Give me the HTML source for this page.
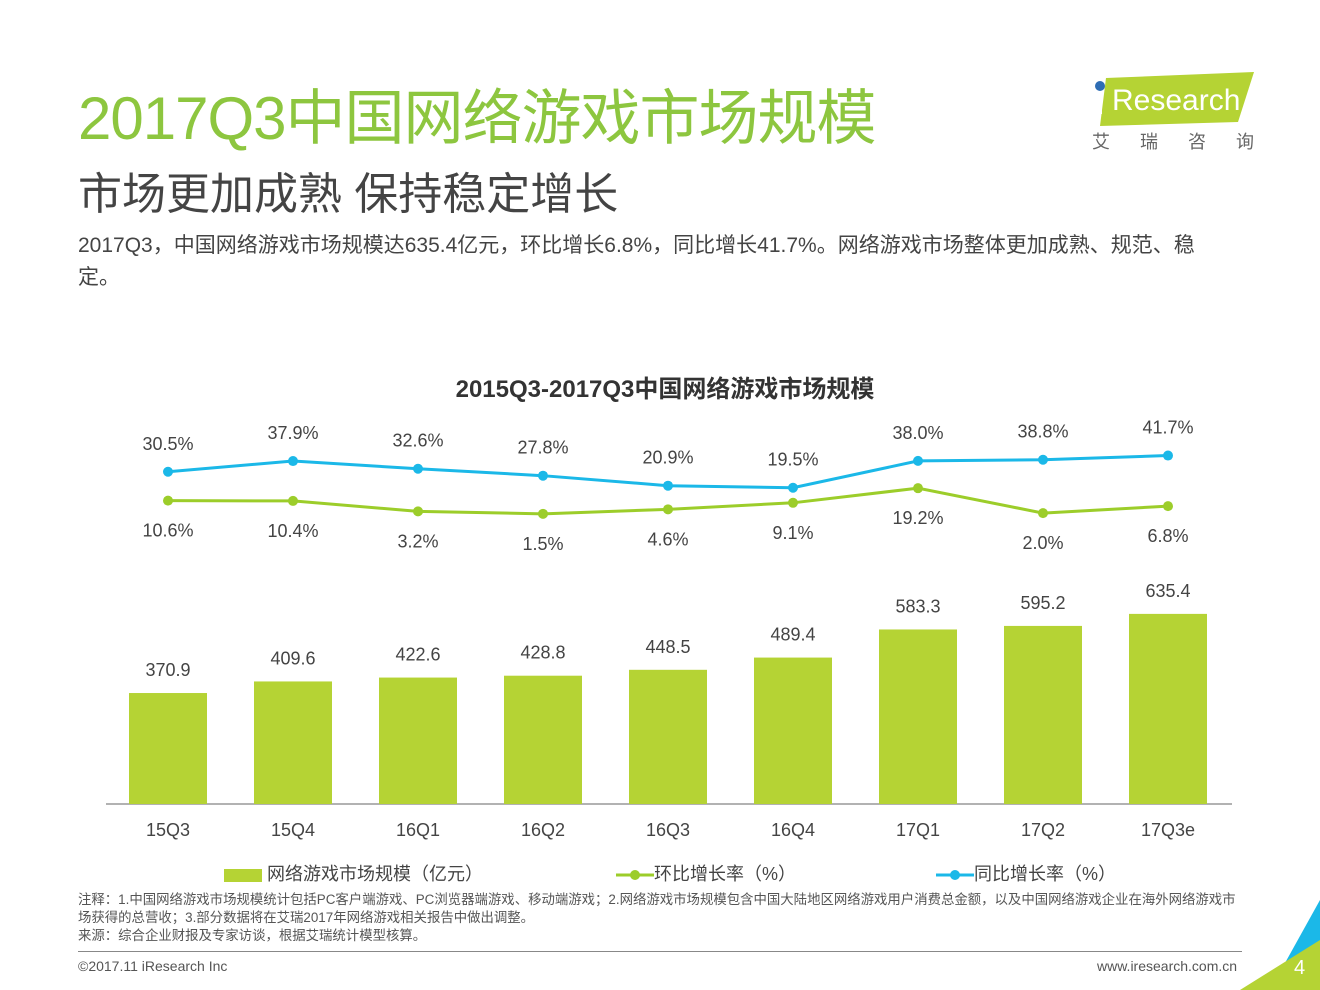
<!DOCTYPE html>
<html><head><meta charset="utf-8">
<style>
body{margin:0;width:1320px;height:990px;background:#fff;overflow:hidden;position:relative;font-family:"Liberation Sans","Noto Sans CJK SC",sans-serif;}
.abs{position:absolute;white-space:nowrap;}
</style></head><body>
<div class="abs" style="left:78px;top:70px;font-size:60px;color:#8dc63f;letter-spacing:-1px;">2017Q3中国网络游戏市场规模</div>
<div class="abs" style="left:78px;top:158px;font-size:44px;color:#444;">市场更加成熟 保持稳定增长</div>
<div class="abs" style="left:78px;top:230px;font-size:21px;color:#444;line-height:32px;white-space:normal;width:1140px;">2017Q3，中国网络游戏市场规模达635.4亿元，环比增长6.8%，同比增长41.7%。网络游戏市场整体更加成熟、规范、稳定。</div>
<div class="abs" style="left:1092px;top:70px;width:165px;height:90px;">
<svg width="165" height="90"><polygon points="14,8 162,2 146,52 8,56" fill="#b5d334"/><circle cx="8" cy="16" r="5" fill="#2e6db4"/><text x="20" y="40" font-size="30" fill="#fff" font-family="Liberation Sans">Research</text><rect x="4" y="24" width="6" height="20" fill="#fff"/>
<text x="0" y="78" font-size="18" fill="#666" font-family="Noto Sans CJK SC">艾</text><text x="48" y="78" font-size="18" fill="#666" font-family="Noto Sans CJK SC">瑞</text><text x="96" y="78" font-size="18" fill="#666" font-family="Noto Sans CJK SC">咨</text><text x="144" y="78" font-size="18" fill="#666" font-family="Noto Sans CJK SC">询</text></svg></div>

<svg id="chart" class="abs" style="left:0;top:0" width="1320" height="990">
<text x="665" y="397" text-anchor="middle" font-size="24" font-weight="bold" fill="#333">2015Q3-2017Q3中国网络游戏市场规模</text>
<line x1="106" y1="804" x2="1232" y2="804" stroke="#999" stroke-width="1.5"/>
<g id="g"></g>
</svg>

<div class="abs" style="left:224px;top:860px;font-size:18px;color:#444;">
<span style="display:inline-block;width:38px;height:13px;background:#b5d334;vertical-align:middle;"></span> 网络游戏市场规模（亿元）
</div>
<div class="abs" style="left:616px;top:860px;font-size:18px;color:#444;"><svg width="38" height="14" style="vertical-align:middle"><line x1="0" y1="7" x2="38" y2="7" stroke="#9ccd2a" stroke-width="3"/><circle cx="19" cy="7" r="5" fill="#9ccd2a"/></svg>环比增长率（%）</div>
<div class="abs" style="left:936px;top:860px;font-size:18px;color:#444;"><svg width="38" height="14" style="vertical-align:middle"><line x1="0" y1="7" x2="38" y2="7" stroke="#1bb8e8" stroke-width="3"/><circle cx="19" cy="7" r="5" fill="#1bb8e8"/></svg>同比增长率（%）</div>

<div class="abs" style="left:78px;top:891px;font-size:13.4px;color:#555;line-height:18px;white-space:normal;width:1165px;">注释：1.中国网络游戏市场规模统计包括PC客户端游戏、PC浏览器端游戏、移动端游戏；2.网络游戏市场规模包含中国大陆地区网络游戏用户消费总金额，以及中国网络游戏企业在海外网络游戏市场获得的总营收；3.部分数据将在艾瑞2017年网络游戏相关报告中做出调整。<br>来源：综合企业财报及专家访谈，根据艾瑞统计模型核算。</div>
<div class="abs" style="left:78px;top:951px;width:1164px;height:1px;background:#888;"></div>
<div class="abs" style="left:78px;top:958px;font-size:14px;color:#555;">©2017.11 iResearch Inc</div>
<div class="abs" style="left:1097px;top:958px;font-size:14px;color:#555;">www.iresearch.com.cn</div>
<svg class="abs" style="left:1240px;top:900px" width="80" height="90"><polygon points="80,0 80,90 30,90 " fill="#1bb8e8"/><polygon points="80,40 80,90 0,90" fill="#b5d334"/><text x="54" y="74" font-size="20" fill="#fff">4</text></svg>

<script>
const categories=["15Q3","15Q4","16Q1","16Q2","16Q3","16Q4","17Q1","17Q2","17Q3e"];
const marketSize=[370.9,409.6,422.6,428.8,448.5,489.4,583.3,595.2,635.4];
const qoqRate=[10.6,10.4,3.2,1.5,4.6,9.1,19.2,2.0,6.8];
const yoyRate=[30.5,37.9,32.6,27.8,20.9,19.5,38.0,38.8,41.7];
const NS="http://www.w3.org/2000/svg";
const g=document.getElementById('g');
const xc=i=>168+125*i;
const yb=v=>804-v*0.2992;
const yl=v=>516-v*1.45;
function mk(t,a,txt){const e=document.createElementNS(NS,t);for(const k in a)e.setAttribute(k,a[k]);if(txt!==undefined)e.textContent=txt;g.appendChild(e);return e;}
categories.forEach((c,i)=>{
 const b=mk('rect',{x:xc(i)-39,y:yb(marketSize[i]),width:78,height:804-yb(marketSize[i]),fill:'#b5d334'});
 
 
 const bl=mk('text',{x:xc(i),y:yb(marketSize[i])-17,'text-anchor':'middle','font-size':18,fill:'#444'},marketSize[i].toFixed(1));
 
 
 const xl=mk('text',{x:xc(i),y:836,'text-anchor':'middle','font-size':18,fill:'#444'},c);
 
 
});
function line(arr,col,nm,above){
 const p=mk('polyline',{points:arr.map((v,i)=>xc(i)+','+yl(v)).join(' '),fill:'none',stroke:col,'stroke-width':3});
 
 
 arr.forEach((v,i)=>{
  const c=mk('circle',{cx:xc(i),cy:yl(v),r:5,fill:col});
  
  
  const t=mk('text',{x:xc(i),y:above?yl(v)-22:yl(v)+36,'text-anchor':'middle','font-size':18,fill:'#444'},v.toFixed(1)+'%');
  
  
 });
}
line(yoyRate,'#1bb8e8','yoy',true);
line(qoqRate,'#9ccd2a','qoq',false);
</script>
</body></html>
